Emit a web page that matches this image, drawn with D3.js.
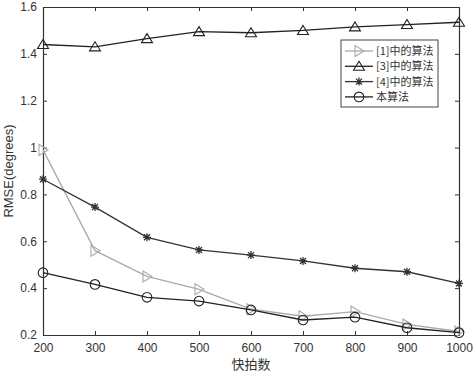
<!DOCTYPE html>
<html>
<head>
<meta charset="utf-8">
<script src="https://cdn.jsdelivr.net/npm/d3@7"></script>
<style>
  body { margin: 0; background: #fff; }
  text { font-family: "Liberation Sans", Arial, sans-serif; }
</style>
</head>
<body>
<div id="chart"></div>
<script>
// snapshot counts and RMSE values
var snapshots = [200, 300, 400, 500, 600, 700, 800, 900, 1000];
var alg1 = [0.99, 0.56, 0.45, 0.395, 0.31, 0.28, 0.30, 0.245, 0.215];
var alg3 = [1.44, 1.43, 1.465, 1.495, 1.49, 1.50, 1.515, 1.525, 1.535];
var alg4 = [0.865, 0.746, 0.617, 0.563, 0.541, 0.516, 0.485, 0.47, 0.42];
var ours = [0.466, 0.416, 0.361, 0.345, 0.307, 0.264, 0.276, 0.231, 0.21];
var seriesNames = ["[1]中的算法", "[3]中的算法", "[4]中的算法", "本算法"];
var yTicks = [0.2, 0.4, 0.6, 0.8, 1, 1.2, 1.4, 1.6];

var width = 474, height = 377,
    margin = { left: 43, right: 15, top: 7, bottom: 42 };

var svg = d3.select("#chart").append("svg")
    .attr("width", width)
    .attr("height", height);

var x = d3.scaleLinear().domain([200, 1000]).range([margin.left, width - margin.right]);
var y = d3.scaleLinear().domain([0.2, 1.6]).range([height - margin.bottom, margin.top]);

var axisColor = "#333";

// axes with inward ticks, MATLAB-style box
var g = svg.append("g");
g.append("g")
    .attr("transform", "translate(0," + y(0.2) + ")")
    .call(d3.axisBottom(x).tickValues(snapshots).tickSizeInner(-4).tickSizeOuter(0).tickPadding(8).tickFormat(d3.format("d")));
g.append("g")
    .attr("transform", "translate(0," + y(1.6) + ")")
    .call(d3.axisTop(x).tickValues(snapshots).tickSizeInner(-4).tickSizeOuter(0).tickFormat(""));
g.append("g")
    .attr("transform", "translate(" + x(200) + ",0)")
    .call(d3.axisLeft(y).tickValues(yTicks).tickSizeInner(-4).tickSizeOuter(0).tickPadding(6).tickFormat(function(d) { return d; }));
g.append("g")
    .attr("transform", "translate(" + x(1000) + ",0)")
    .call(d3.axisRight(y).tickValues(yTicks).tickSizeInner(-4).tickSizeOuter(0).tickFormat(""));

g.selectAll(".domain").attr("stroke", axisColor).attr("stroke-width", 1.2);
g.selectAll(".tick line").attr("stroke", axisColor);
g.selectAll(".tick text").attr("fill", "#333").style("font-size", "12px");

// axis labels
svg.append("text")
    .attr("x", (x(200) + x(1000)) / 2)
    .attr("y", height - 8)
    .attr("text-anchor", "middle")
    .attr("fill", "#333")
    .style("font-family", "'Noto Sans CJK SC', sans-serif")
    .style("font-size", "13px")
    .text("快拍数");

svg.append("text")
    .attr("transform", "translate(13," + (y(0.9)) + ") rotate(-90)")
    .attr("text-anchor", "middle")
    .attr("fill", "#333")
    .style("font-size", "13px")
    .text("RMSE(degrees)");

// marker shapes
function marker(sel, type, color) {
    if (type === "tri") {
        sel.append("path").attr("d", "M0,-5L5.5,4L-5.5,4Z")
            .attr("fill", "none").attr("stroke", color).attr("stroke-width", 1.1);
    } else if (type === "right") {
        sel.append("path").attr("d", "M-4,-5.5L5,0L-4,5.5Z")
            .attr("fill", "none").attr("stroke", color).attr("stroke-width", 1.1);
    } else if (type === "star") {
        sel.append("path").attr("d", "M-4,0L4,0M0,-4L0,4M-3,-3L3,3M-3,3L3,-3")
            .attr("stroke", color).attr("stroke-width", 1.3);
    } else {
        sel.append("circle").attr("r", 4.8)
            .attr("fill", "none").attr("stroke", color).attr("stroke-width", 1.1);
    }
}

var series = [
    { name: seriesNames[0], values: alg1, color: "#aaa", type: "right" },
    { name: seriesNames[1], values: alg3, color: "#222", type: "tri" },
    { name: seriesNames[2], values: alg4, color: "#333", type: "star" },
    { name: seriesNames[3], values: ours, color: "#222", type: "circle" }
];

var line = d3.line()
    .x(function(d, i) { return x(snapshots[i]); })
    .y(function(d) { return y(d); });

series.forEach(function(s) {
    svg.append("path")
        .datum(s.values)
        .attr("d", line)
        .attr("fill", "none")
        .attr("stroke", s.color)
        .attr("stroke-width", 1.3);
    s.values.forEach(function(v, i) {
        var m = svg.append("g").attr("transform", "translate(" + x(snapshots[i]) + "," + y(v) + ")");
        marker(m, s.type, s.color);
    });
});

// legend
var legend = svg.append("g").attr("transform", "translate(341,40)");
legend.append("rect")
    .attr("width", 97).attr("height", 67)
    .attr("fill", "#fff").attr("stroke", "#444").attr("stroke-width", 1);

series.forEach(function(s, i) {
    var row = legend.append("g").attr("transform", "translate(0," + (11 + i * 15.3) + ")");
    row.append("line").attr("x1", 4).attr("x2", 32).attr("stroke", s.color).attr("stroke-width", 1.3);
    marker(row.append("g").attr("transform", "translate(18,0)"), s.type, s.color);
    row.append("text")
        .attr("x", 35).attr("y", 4)
        .attr("fill", "#333")
        .style("font-family", "'Noto Sans CJK SC', sans-serif")
        .style("font-size", "11px")
        .text(s.name);
});
</script>
</body>
</html>
